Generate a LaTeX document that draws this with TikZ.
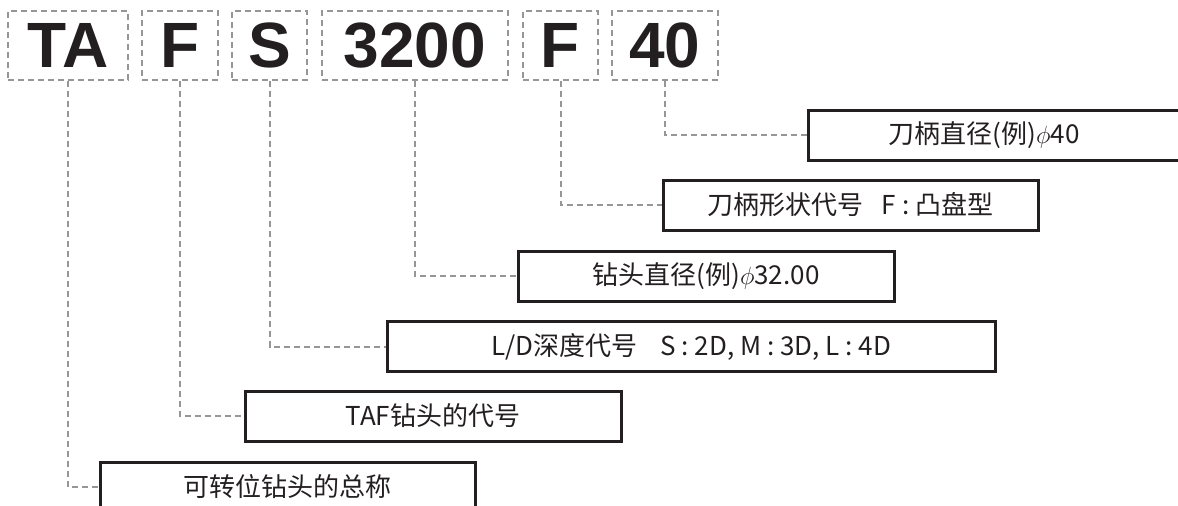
\documentclass[tikz,border=0pt]{standalone}
\usepackage{fontspec}
\setmainfont{Liberation Sans}
\newfontfamily\hfont{Liberation Sans}
\newfontfamily\cjk{Noto Sans CJK SC}
\definecolor{dgray}{RGB}{150,150,150}
\definecolor{bline}{RGB}{35,31,32}
\newcommand{\myphi}{\raisebox{0pt}{$\phi$}}
\tikzset{
  codebox/.style={draw=dgray, line width=2pt, dash pattern=on 6pt off 4pt,
    minimum height=69pt, inner sep=0pt, text=bline,
    font=\hfont\bfseries\fontsize{64}{64}\selectfont},
  descbox/.style={draw=bline, line width=3pt, minimum height=50pt, inner sep=0pt,
    text=bline, font=\cjk\fontsize{26}{26}\selectfont},
  conn/.style={draw=dgray, line width=2pt, dash pattern=on 6pt off 4pt}
}
\begin{document}
\begin{tikzpicture}[x=1pt,y=-1pt]
\useasboundingbox (0,0) rectangle (1178,506);
% code boxes
\node[codebox, minimum width=120pt] (t1) at (68,45.5) {TA};
\node[codebox, minimum width=76pt] (t2) at (180,45.5) {F};
\node[codebox, minimum width=75pt] (t3) at (269.5,45.5) {S};
\node[codebox, minimum width=186pt] (t4) at (415,45.5) {3200};
\node[codebox, minimum width=75pt] (t5) at (560.5,45.5) {F};
\node[codebox, minimum width=106pt] (t6) at (665,45.5) {40};
% description boxes
\node[descbox, minimum width=382pt] (b1) at (999,135) {\hspace*{-30pt}刀柄直径(例)\myphi40};
\node[descbox, minimum width=375pt] (b2) at (850.5,205) {刀柄形状代号\hspace{0.7em}F : 凸盘型};
\node[descbox, minimum width=376pt] (b3) at (706,276) {钻头直径(例)\myphi32.00};
\node[descbox, minimum width=608pt] (b4) at (691,346.5) {L/D深度代号\hspace{0.9em}S : 2D, M : 3D, L : 4D};
\node[descbox, minimum width=376pt] (b5) at (433,416) {TAF钻头的代号};
\node[descbox, minimum width=375pt] (b6) at (287.5,487) {可转位钻头的总称};
% connectors
\draw[conn] (t6.south) |- (b1.west);
\draw[conn] (t5.south) |- (b2.west);
\draw[conn] (t4.south) |- (b3.west);
\draw[conn] (t3.south) |- (b4.west);
\draw[conn] (t2.south) |- (b5.west);
\draw[conn] (t1.south) |- (b6.west);
\end{tikzpicture}
\end{document}
